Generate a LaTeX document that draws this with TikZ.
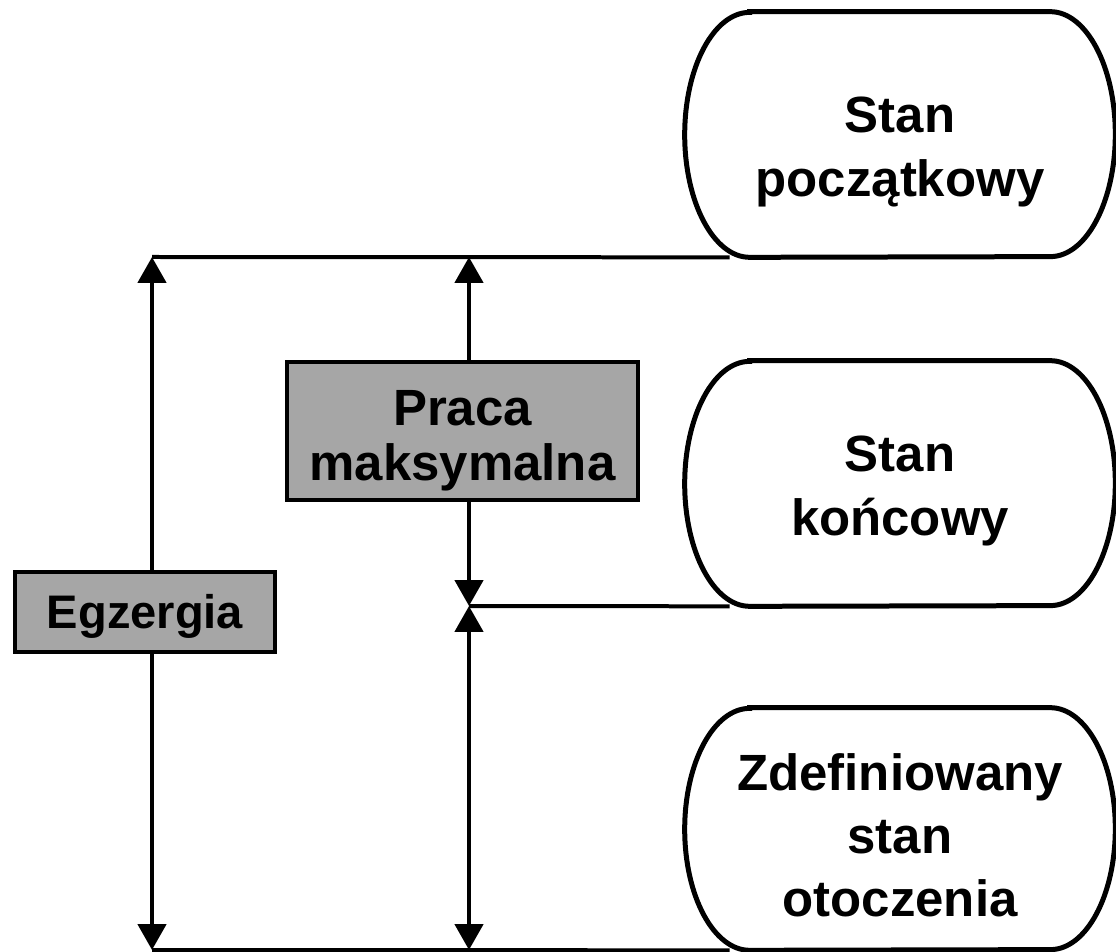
\documentclass[tikz,border=0pt]{standalone}
\usepackage{fontspec}
\setmainfont{Liberation Sans}
\usepackage{tikz}
\usetikzlibrary{arrows.meta}
\usetikzlibrary{positioning}
\definecolor{mgray}{RGB}{166,166,166}
\tikzset{gruba/.style = {line width=0.1cm}}
\tikzset{linia/.style = {line width=0.08cm}}
\tikzset{strzalka/.style = {line width=0.095cm,
                            {Triangle[width=0.56cm,length=0.52cm]}-{Triangle[width=0.56cm,length=0.52cm]}}}
\tikzset{ramka/.style = {draw, line width=0.09cm, fill=mgray, align=center, inner sep=0pt,
                         font=\fontsize{29pt}{31.3pt}\selectfont\bfseries}}
\tikzset{stan/.style = {minimum width=8.6cm, minimum height=#1, inner sep=0pt}}
\tikzset{napis/.style = {align=center, font=\fontsize{29pt}{35.9pt}\selectfont\bfseries}}
\newcommand{\owal}[2]{%
    \draw [gruba] ([xshift=1.3cm]#1.north west) -- ([xshift=-1.3cm]#1.north east)
        arc [start angle=90, end angle=-90, x radius=1.3cm, y radius=#2]
        -- ([xshift=1.3cm]#1.south west)
        arc [start angle=270, end angle=90, x radius=1.3cm, y radius=#2] -- cycle;}

\begin{document}
\begin{tikzpicture}[x=0.02cm, y=-0.02cm]
    \useasboundingbox (0, 0) rectangle (1116, 952);

    % stany
    \node [stan=4.9cm] (pocz) at (900, 134.5) {};
    \node [stan=4.9cm] (konc) at (900, 483.5) {};
    \node [stan=4.84cm] (otocz) at (900, 829) {};
    \owal{pocz}{2.45cm}
    \owal{konc}{2.45cm}
    \owal{otocz}{2.42cm}

    \node [napis] (pocz-t) at (900, 152) {Stan\\początkowy};
    \node [napis] (konc-t) at (900, 491) {Stan\\końcowy};
    \node [napis] (otocz-t) at (900, 835) {Zdefiniowany\\stan\\otoczenia};

    \coordinate (e-g) at (152, 257);
    \coordinate (e-d) at (152, 950);
    \coordinate (p-g) at (469, 257);
    \coordinate (p-s) at (469, 606);
    \coordinate (p-d) at (469, 950);

    \draw [linia] (e-g) -- ([xshift=0.9cm]pocz.south west);
    \draw [linia] (p-s) -- ([xshift=0.9cm]konc.south west);
    \draw [linia] (e-d) -- ([xshift=0.9cm]otocz.south west);

    \draw [strzalka] (e-g) -- (e-d);
    \draw [strzalka] (p-g) -- (p-s);
    \draw [strzalka] (p-s) -- (p-d);

    \node [ramka, minimum width=5.2cm, minimum height=1.6cm, text height=0.84cm,
           font=\fontsize{26.8pt}{31pt}\selectfont\bfseries] (egz) at (145, 612) {Egzergia};
    \node [ramka, minimum width=7.02cm, minimum height=2.76cm, text height=2.2cm]
          (praca) at (462.5, 431) {Praca\\maksymalna};
\end{tikzpicture}
\end{document}
